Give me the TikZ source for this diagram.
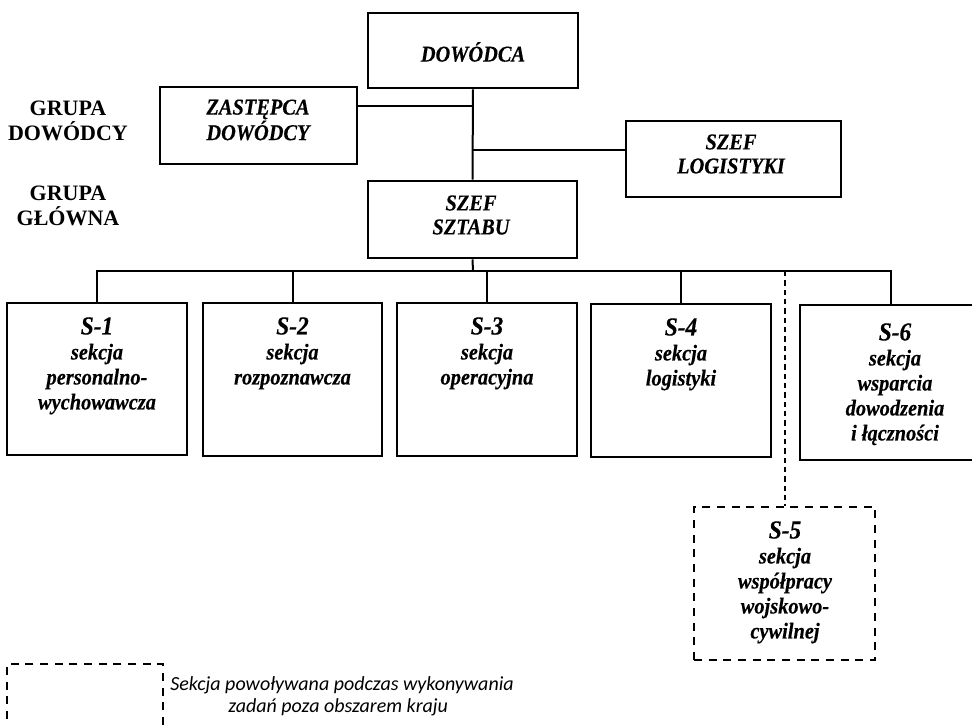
\documentclass[tikz,border=0pt]{standalone}
\usepackage{fontspec}
\setmainfont{Liberation Serif}
\newfontfamily\boxfont{Liberation Serif}[FakeStretch=0.9, FakeBold=0.3]
\newfontfamily\legendfont{Carlito}
\usetikzlibrary{fit,calc}

% larger first line (section number) inside a section box
\newcommand\snum[1]{{\fontsize{19.5}{20}\selectfont #1}}

\begin{document}
\begin{tikzpicture}[x=0.75pt,y=-0.75pt,
  box/.style={draw, line width=2.2pt, inner sep=0pt, fit={#1}},
  dbox/.style={draw, line width=1.7pt, dash pattern=on 6pt off 5pt, inner sep=0pt, fit={#1}},
  conn/.style={line width=1.5pt},
  dconn/.style={line width=1.5pt, dash pattern=on 4pt off 3pt},
  hdr/.style={font=\boxfont\bfseries\itshape\fontsize{17}{18}\selectfont, align=center, inner sep=0pt},
  grp/.style={font=\bfseries\fontsize{16.5}{18.75}\selectfont, align=center, inner sep=0pt},
  sec/.style={font=\boxfont\bfseries\itshape\fontsize{17}{18.75}\selectfont, align=center, inner sep=0pt, anchor=north},
  legend/.style={font=\legendfont\itshape\fontsize{15}{16.5}\selectfont, align=left, inner sep=0pt, anchor=north west}
]
\useasboundingbox (0,0) rectangle (972,725);
\clip (0,0) rectangle (972,725);

% command group
\node[box={(368,13) (578,88)}] (dow) {};
\node[hdr] (tdow) at (473,52) {DOWÓDCA};
\node[box={(160,87) (357,164)}] (zast) {};
\node[hdr] (tzast) at (258,120) {ZASTĘPCA\\DOWÓDCY};
\node[box={(626,121) (841,197)}] (szlog) {};
\node[hdr] (tszlog) at (731,154) {SZEF\\LOGISTYKI};
\node[box={(368,181) (577,258)}] (szsz) {};
\node[hdr] (tszsz) at (471,215) {SZEF\\SZTABU};

% group captions
\node[grp] (gdow) at (68,120.5) {GRUPA\\DOWÓDCY};
\node[grp] (ggl) at (68,206) {GRUPA\\GŁÓWNA};

% staff sections
\node[box={(7,303) (187,455)}] (s1) {};
\node[sec] (ts1) at (97,317) {\snum{S-1}\\sekcja\\personalno-\\wychowawcza};
\node[box={(203,303) (382,456)}] (s2) {};
\node[sec] (ts2) at (292.5,317) {\snum{S-2}\\sekcja\\rozpoznawcza};
\node[box={(397,303) (577,456)}] (s3) {};
\node[sec] (ts3) at (487,317) {\snum{S-3}\\sekcja\\operacyjna};
\node[box={(591,304) (771,457)}] (s4) {};
\node[sec] (ts4) at (681,318) {\snum{S-4}\\sekcja\\logistyki};
\node[box={(800,305) (981,460)}] (s6) {};
\node[sec] (ts6) at (895,323) {\snum{S-6}\\sekcja\\wsparcia\\dowodzenia\\i łączności};

% section formed only for missions abroad
\node[dbox={(694,507) (875,660)}] (s5) {};
\node[sec] (ts5) at (785,521) {\snum{S-5}\\sekcja\\współpracy\\wojskowo-\\cywilnej};

% legend
\node[dbox={(7,664) (163,745)}] (legbox) {};
\node[legend] (legtext) at (170,676) {Sekcja powoływana podczas wykonywania\\\hspace*{43.5pt}zadań poza obszarem kraju};

% connectors
\coordinate (bus) at (473,271);
\draw[conn] (dow.south) -- (szsz.north);
\coordinate (zastc) at ($(zast.north east)!0.26!(zast.south east)$);
\draw[conn] (zastc) -- (zastc -| dow.south);
\coordinate (logc) at ($(szlog.north west)!0.39!(szlog.south west)$);
\draw[conn] (logc) -- (logc -| dow.south);
\draw[conn] (szsz.south) -- (bus);
\draw[conn] (s1.north) |- (bus) -| (s6.north);
\draw[conn] (s2.north) -- (s2.north |- bus);
\draw[conn] (s3.north) -- (s3.north |- bus);
\draw[conn] (s4.north) -- (s4.north |- bus);
\draw[dconn] (s5.north |- bus) -- (s5.north);
\end{tikzpicture}
\end{document}
